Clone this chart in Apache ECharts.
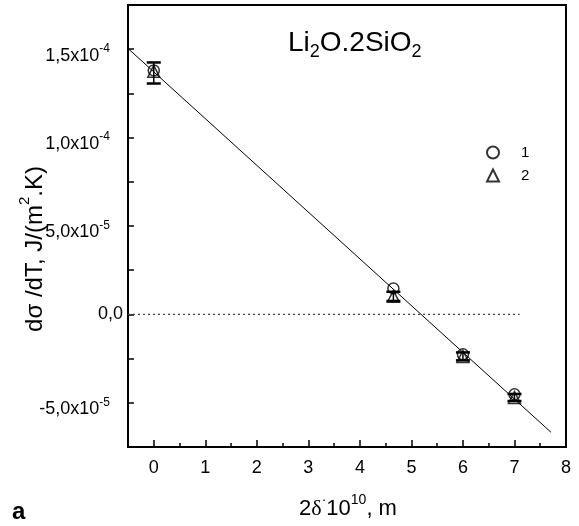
<!DOCTYPE html>
<html><head><meta charset="utf-8">
<script src="https://cdn.jsdelivr.net/npm/echarts@6/dist/echarts.min.js"></script>
<style>html,body{margin:0;padding:0;background:#fff}#c{width:579px;height:526px}</style>
</head><body><div id="c"></div>
<script>
// ---- data ----
const xValues  = [0, 4.65, 6, 7];
const series1Y = [1.38e-4, 1.47e-5, -2.26e-5, -4.52e-5];   // circles "1"
const series2Y = [1.375e-4, 1.02e-5, -2.38e-5, -4.70e-5];  // triangles "2"
const errLow   = [1.306e-4, 7.6e-6, -2.6e-5, -4.9e-5];
const errHigh  = [1.425e-4, 1.28e-5, -2.15e-5, -4.5e-5];
const fitX = [-0.5, 7.71];
const fitY = [1.504e-4, -6.67e-5];
const zeroX = [-0.5, 7.1];
const xTickValues = [0, 1, 2, 3, 4, 5, 6, 7, 8];
const xTickLabels = ['0', '1', '2', '3', '4', '5', '6', '7', '8'];
const yTickValues = [-5e-5, 0, 5e-5, 1e-4, 1.5e-4];
const yTickMantissa = ['-5,0', '0,0', '5,0', '1,0', '1,5'];
const yTickExp = ['-5', '', '-5', '-4', '-4'];

const FONT = 'Liberation Sans, Arial, sans-serif';
const chart = echarts.init(document.getElementById('c'), null, {renderer: 'canvas'});

const option = {
  animation: false,
  backgroundColor: '#fff',
  grid: {left: 128, right: 13, top: 5, bottom: 79, show: true, borderColor: '#000', borderWidth: 2, backgroundColor: 'transparent'},
  legend: {
    data: ['1', '2'], orient: 'vertical', left: 481, top: 140,
    itemWidth: 12, itemHeight: 12, itemGap: 8,
    textStyle: {fontSize: 15, fontFamily: FONT, color: '#000', padding: [0, 0, 0, 17]}
  },
  xAxis: [{
    type: 'value', min: -0.5, max: 8, interval: 0.5,
    axisLine: {onZero: false, lineStyle: {color: '#000', width: 2}},
    axisTick: {inside: true, length: 4, lineStyle: {color: '#000', width: 1.5}},
    axisLabel: {
      margin: 12, fontSize: 18, fontFamily: FONT, color: '#000',
      formatter: v => { const r = Math.round(v); if (Math.abs(v - r) < 1e-9) { const i = xTickValues.indexOf(r); return i >= 0 ? xTickLabels[i] : ''; } return ''; }
    },
    splitLine: {show: false}
  }, {
    type: 'value', min: -0.5, max: 8, position: 'bottom',
    axisLine: {show: false, onZero: false},
    axisTick: {inside: true, length: 7, customValues: xTickValues, lineStyle: {color: '#000', width: 1.5}},
    axisLabel: {show: false},
    splitLine: {show: false}
  }],
  yAxis: {
    type: 'value', min: -7.5e-5, max: 1.75e-4, interval: 2.5e-5,
    axisLine: {onZero: false, lineStyle: {color: '#000', width: 2}},
    axisTick: {inside: true, length: 6, lineStyle: {color: '#000', width: 1.5}},
    axisLabel: {
      margin: 5, color: '#000',
      formatter: v => {
        const i = yTickValues.findIndex(t => Math.abs(t - v) < 1e-9);
        if (i < 0) return '';
        if (!yTickExp[i]) return '{p|' + yTickMantissa[i] + '}';
        return '{m|' + yTickMantissa[i] + 'x10}{s|' + yTickExp[i] + '}';
      },
      rich: {
        p: {fontSize: 18, fontFamily: FONT, color: '#000', lineHeight: 18},
        m: {fontSize: 18, fontFamily: FONT, color: '#000', lineHeight: 31, verticalAlign: 'bottom'},
        s: {fontSize: 12, fontFamily: FONT, color: '#000', lineHeight: 12, padding: [9, 13, 0, 0], verticalAlign: 'top'}
      }
    },
    splitLine: {show: false}
  },
  graphic: [
    {type: 'text', x: 288, y: 47.5, style: {
      text: '{m|Li}{s|2}{m|O.2SiO}{s|2}', align: 'left', verticalAlign: 'middle',
      rich: {
        m: {fontSize: 28, fontFamily: FONT, fill: '#000', lineHeight: 36, verticalAlign: 'top'},
        s: {fontSize: 18, fontFamily: FONT, fill: '#000', lineHeight: 18, padding: [14, 0, 0, 0], verticalAlign: 'top'}
      }}},
    {type: 'text', x: 348, y: 508, style: {
      text: '{m|2}{g|δ}{s|·}{m|10}{s|10}{m|, m}', align: 'center', verticalAlign: 'middle',
      rich: {
        m: {fontSize: 22, fontFamily: FONT, fill: '#000', lineHeight: 30, padding: [5, 0, 0, 0], verticalAlign: 'top'},
        g: {fontSize: 22, fontFamily: 'Liberation Serif, serif', fill: '#000', lineHeight: 30, padding: [5, 0, 0, 0], verticalAlign: 'top'},
        s: {fontSize: 14, fontFamily: FONT, fill: '#000', lineHeight: 14, verticalAlign: 'top'}
      }}},
    {type: 'text', x: 33, y: 249, rotation: Math.PI / 2, style: {
      text: '{m|dσ /dT, J/(m}{s|2}{m|.K)}', align: 'center', verticalAlign: 'middle',
      rich: {
        m: {fontSize: 24, fontFamily: FONT, fill: '#000', lineHeight: 32, padding: [6, 0, 0, 0], verticalAlign: 'top'},
        s: {fontSize: 15, fontFamily: FONT, fill: '#000', lineHeight: 15, verticalAlign: 'top'}
      }}},
    {type: 'text', x: 12, y: 524, style: {text: 'a', fontSize: 24, fontWeight: 'bold', fontFamily: FONT, fill: '#000', align: 'left', verticalAlign: 'bottom'}}
  ],
  series: [
    {
      type: 'line', name: 'fit', data: fitX.map((x, i) => [x, fitY[i]]), showSymbol: false, silent: true,
      lineStyle: {color: '#000', width: 1}, z: 2
    },
    {
      type: 'line', name: 'zero', data: [[zeroX[0], 0], [zeroX[1], 0]], showSymbol: false, silent: true,
      lineStyle: {color: '#444', width: 1.2, type: [2, 3]}, z: 2
    },
    {
      type: 'custom', name: 'err',
      data: xValues.map((x, i) => [x, errLow[i], errHigh[i]]),
      encode: {x: 0, y: [1, 2]},
      renderItem: (params, api) => {
        const x = api.value(0);
        const p1 = api.coord([x, api.value(2)]);
        const p2 = api.coord([x, api.value(1)]);
        const hw = 7;
        const st = {stroke: '#000', lineWidth: 2.5, fill: null};
        return {type: 'group', children: [
          {type: 'line', shape: {x1: p1[0], y1: p1[1], x2: p2[0], y2: p2[1]}, style: {stroke: '#000', lineWidth: 1.5}},
          {type: 'line', shape: {x1: p1[0] - hw, y1: p1[1], x2: p1[0] + hw, y2: p1[1]}, style: st},
          {type: 'line', shape: {x1: p2[0] - hw, y1: p2[1], x2: p2[0] + hw, y2: p2[1]}, style: st}
        ]};
      },
      z: 3
    },
    {
      type: 'scatter', name: '1', data: xValues.map((x, i) => [x, series1Y[i]]),
      symbol: 'circle', symbolSize: 11,
      itemStyle: {color: 'rgba(255,255,255,0)', borderColor: '#000', borderWidth: 1.5}, z: 4
    },
    {
      type: 'scatter', name: '2', data: xValues.map((x, i) => [x, series2Y[i]]),
      symbol: 'triangle', symbolSize: 12,
      itemStyle: {color: 'rgba(255,255,255,0)', borderColor: '#000', borderWidth: 1.5}, z: 4
    }
  ]
};
chart.setOption(option);
</script>
</body></html>
